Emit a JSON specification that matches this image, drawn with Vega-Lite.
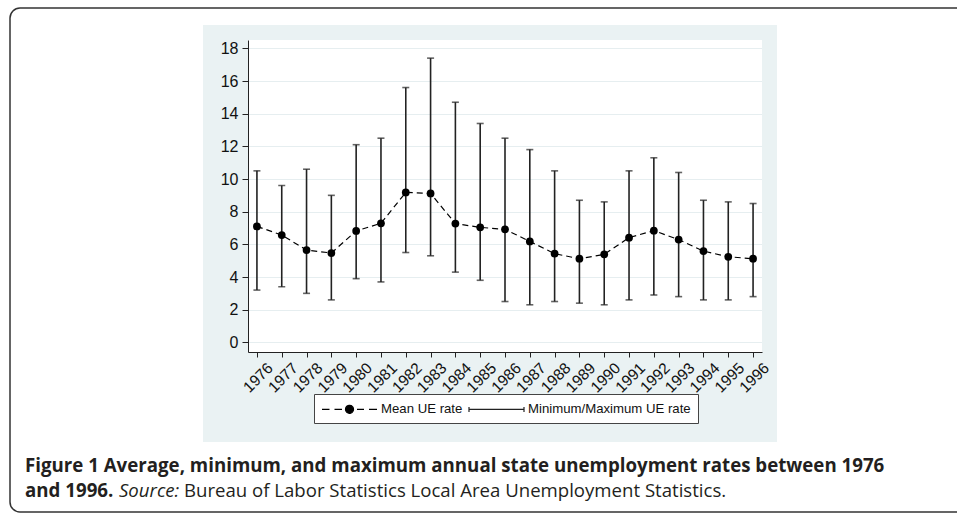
{
  "$schema": "https://vega.github.io/schema/vega-lite/v6.json",
  "autosize": "none",
  "width": 514,
  "height": 312,
  "padding": {"left": 248, "top": 40, "right": 195, "bottom": 162},
  "background": "white",
  "config": {"view": {"stroke": null, "fill": "white"}},
  "title": {
    "text": "Figure 1 Average, minimum, and maximum annual state unemployment rates between 1976",
    "orient": "bottom",
    "anchor": "start",
    "frame": "group",
    "offset": 0,
    "dx": -223,
    "dy": -55.7,
    "font": "Open Sans",
    "fontSize": 18.7,
    "fontWeight": "bold",
    "color": "#231f20"
  },
  "data": {
    "values": [
      {"year": 1976, "mean": 7.10, "min": 3.2, "max": 10.5},
      {"year": 1977, "mean": 6.57, "min": 3.4, "max": 9.6},
      {"year": 1978, "mean": 5.65, "min": 3.0, "max": 10.6},
      {"year": 1979, "mean": 5.47, "min": 2.6, "max": 9.0},
      {"year": 1980, "mean": 6.82, "min": 3.9, "max": 12.1},
      {"year": 1981, "mean": 7.29, "min": 3.7, "max": 12.5},
      {"year": 1982, "mean": 9.18, "min": 5.5, "max": 15.6},
      {"year": 1983, "mean": 9.12, "min": 5.3, "max": 17.4},
      {"year": 1984, "mean": 7.27, "min": 4.3, "max": 14.7},
      {"year": 1985, "mean": 7.04, "min": 3.8, "max": 13.4},
      {"year": 1986, "mean": 6.92, "min": 2.5, "max": 12.5},
      {"year": 1987, "mean": 6.18, "min": 2.3, "max": 11.8},
      {"year": 1988, "mean": 5.43, "min": 2.5, "max": 10.5},
      {"year": 1989, "mean": 5.12, "min": 2.4, "max": 8.7},
      {"year": 1990, "mean": 5.39, "min": 2.3, "max": 8.6},
      {"year": 1991, "mean": 6.41, "min": 2.6, "max": 10.5},
      {"year": 1992, "mean": 6.84, "min": 2.9, "max": 11.3},
      {"year": 1993, "mean": 6.29, "min": 2.8, "max": 10.4},
      {"year": 1994, "mean": 5.59, "min": 2.6, "max": 8.7},
      {"year": 1995, "mean": 5.24, "min": 2.6, "max": 8.6},
      {"year": 1996, "mean": 5.12, "min": 2.8, "max": 8.5}
    ]
  },
  "resolve": {"axis": {"x": "independent", "y": "independent"}},
  "layer": [
    {
      "data": {"values": [{}]},
      "mark": {"type": "rect", "color": "#eaf2f3"},
      "encoding": {
        "x": {"datum": 1973.826, "type": "quantitative", "scale": {"domain": [1975.64, 1996.36], "nice": false, "zero": false}, "axis": null},
        "x2": {"datum": 1975.64},
        "y": {"datum": -6.1, "type": "quantitative", "scale": {"domain": [-0.59, 18.51], "nice": false, "zero": false}, "axis": null},
        "y2": {"datum": 19.428}
      }
    },
    {
      "data": {"values": [{}]},
      "mark": {"type": "rect", "color": "#eaf2f3"},
      "encoding": {
        "x": {"datum": 1996.36, "type": "quantitative", "scale": {"domain": [1975.64, 1996.36], "nice": false, "zero": false}, "axis": null},
        "x2": {"datum": 1996.965},
        "y": {"datum": -6.1, "type": "quantitative", "scale": {"domain": [-0.59, 18.51], "nice": false, "zero": false}, "axis": null},
        "y2": {"datum": 19.428}
      }
    },
    {
      "data": {"values": [{}]},
      "mark": {"type": "rect", "color": "#eaf2f3"},
      "encoding": {
        "x": {"datum": 1973.826, "type": "quantitative", "scale": {"domain": [1975.64, 1996.36], "nice": false, "zero": false}, "axis": null},
        "x2": {"datum": 1996.965},
        "y": {"datum": 18.51, "type": "quantitative", "scale": {"domain": [-0.59, 18.51], "nice": false, "zero": false}, "axis": null},
        "y2": {"datum": 19.428}
      }
    },
    {
      "data": {"values": [{}]},
      "mark": {"type": "rect", "color": "#eaf2f3"},
      "encoding": {
        "x": {"datum": 1973.826, "type": "quantitative", "scale": {"domain": [1975.64, 1996.36], "nice": false, "zero": false}, "axis": null},
        "x2": {"datum": 1996.965},
        "y": {"datum": -6.1, "type": "quantitative", "scale": {"domain": [-0.59, 18.51], "nice": false, "zero": false}, "axis": null},
        "y2": {"datum": -0.59}
      }
    },
    {
      "data": {"values": [{}]},
      "mark": {"type": "rect", "filled": false, "color": "#333333", "strokeWidth": 1.5, "cornerRadius": 10},
      "encoding": {
        "x": {"datum": 1966.046, "type": "quantitative", "scale": {"domain": [1975.64, 1996.36], "nice": false, "zero": false}, "axis": null},
        "x2": {"datum": 2004.946},
        "y": {"datum": -10.386, "type": "quantitative", "scale": {"domain": [-0.59, 18.51], "nice": false, "zero": false}, "axis": null},
        "y2": {"datum": 20.469}
      }
    },
    {
      "data": {"values": [{}]},
      "mark": {"type": "text", "align": "left", "baseline": "alphabetic", "font": "Open Sans", "fontSize": 18.7, "fontWeight": "bold", "color": "#231f20"},
      "encoding": {
        "x": {"datum": 1966.651, "type": "quantitative", "scale": {"domain": [1975.64, 1996.36], "nice": false, "zero": false}, "axis": null},
        "y": {"datum": -9.449, "type": "quantitative", "scale": {"domain": [-0.59, 18.51], "nice": false, "zero": false}, "axis": null},
        "text": {"value": "and 1996."}
      }
    },
    {
      "data": {"values": [{}]},
      "mark": {"type": "text", "align": "left", "baseline": "alphabetic", "font": "Open Sans", "fontSize": 18.6, "fontStyle": "italic", "color": "#231f20"},
      "encoding": {
        "x": {"datum": 1970.44, "type": "quantitative", "scale": {"domain": [1975.64, 1996.36], "nice": false, "zero": false}, "axis": null},
        "y": {"datum": -9.449, "type": "quantitative", "scale": {"domain": [-0.59, 18.51], "nice": false, "zero": false}, "axis": null},
        "text": {"value": "Source:"}
      }
    },
    {
      "data": {"values": [{}]},
      "mark": {"type": "text", "align": "left", "baseline": "alphabetic", "font": "Open Sans", "fontSize": 18.6, "color": "#231f20"},
      "encoding": {
        "x": {"datum": 1973.06, "type": "quantitative", "scale": {"domain": [1975.64, 1996.36], "nice": false, "zero": false}, "axis": null},
        "y": {"datum": -9.449, "type": "quantitative", "scale": {"domain": [-0.59, 18.51], "nice": false, "zero": false}, "axis": null},
        "text": {"value": "Bureau of Labor Statistics Local Area Unemployment Statistics."}
      }
    },
    {
      "mark": {"type": "rule", "strokeWidth": 1.6},
      "encoding": {
        "x": {
          "field": "year", "type": "quantitative",
          "scale": {"domain": [1975.64, 1996.36], "nice": false, "zero": false},
          "axis": {
            "orient": "bottom", "title": null, "zindex": 1, "grid": false,
            "values": [1976, 1977, 1978, 1979, 1980, 1981, 1982, 1983, 1984, 1985, 1986, 1987, 1988, 1989, 1990, 1991, 1992, 1993, 1994, 1995, 1996],
            "format": "d", "labelAngle": -45, "labelAlign": "right", "labelBaseline": "middle",
            "labelOffset": 13, "labelPadding": 8, "tickSize": 5, "tickColor": "#222222", "domainColor": "#222222",
            "labelFont": "Liberation Sans", "labelFontSize": 15.5, "labelColor": "#111111",
            "labelOverlap": false, "labelFlush": false
          }
        },
        "y": {
          "field": "min", "type": "quantitative",
          "scale": {"domain": [-0.59, 18.51], "nice": false, "zero": false},
          "axis": {
            "orient": "left", "title": null, "zindex": 1, "grid": false,
            "values": [0, 2, 4, 6, 8, 10, 12, 14, 16, 18],
            "tickSize": 6, "tickColor": "#222222", "domainColor": "#222222", "labelPadding": 4,
            "labelFont": "Liberation Sans", "labelFontSize": 16, "labelColor": "#111111",
            "labelOverlap": false, "labelFlush": false
          }
        },
        "y2": {"field": "max"},
        "color": {
          "datum": "Minimum/Maximum UE rate", "type": "nominal",
          "scale": {"domain": ["Mean UE rate", "Minimum/Maximum UE rate"], "range": ["#000000", "#222222"]}
        }
      }
    },
    {
      "mark": {"type": "tick", "orient": "horizontal", "size": 7, "thickness": 1.6, "color": "#222222"},
      "encoding": {
        "x": {"field": "year", "type": "quantitative", "scale": {"domain": [1975.64, 1996.36], "nice": false, "zero": false}, "axis": null},
        "y": {"field": "max", "type": "quantitative", "scale": {"domain": [-0.59, 18.51], "nice": false, "zero": false}, "axis": null}
      }
    },
    {
      "mark": {"type": "tick", "orient": "horizontal", "size": 7, "thickness": 1.6, "color": "#222222"},
      "encoding": {
        "x": {"field": "year", "type": "quantitative", "scale": {"domain": [1975.64, 1996.36], "nice": false, "zero": false}, "axis": null},
        "y": {"field": "min", "type": "quantitative", "scale": {"domain": [-0.59, 18.51], "nice": false, "zero": false}, "axis": null}
      }
    },
    {
      "mark": {"type": "line", "strokeDash": [6, 4], "strokeWidth": 1.2},
      "encoding": {
        "x": {"field": "year", "type": "quantitative", "scale": {"domain": [1975.64, 1996.36], "nice": false, "zero": false}, "axis": null},
        "y": {
          "field": "mean", "type": "quantitative",
          "scale": {"domain": [-0.59, 18.51], "nice": false, "zero": false},
          "axis": {
            "orient": "left", "title": null, "zindex": 0, "grid": true,
            "values": [0, 2, 4, 6, 8, 10, 12, 14, 16, 18],
            "gridColor": "#e6eef0", "gridWidth": 1,
            "labels": false, "ticks": false, "domain": false
          }
        },
        "color": {
          "datum": "Mean UE rate", "type": "nominal",
          "legend": {
            "orient": "none", "legendX": 66, "legendY": 354,
            "direction": "horizontal", "title": null,
            "fillColor": "white", "strokeColor": "#444444", "padding": 7,
            "symbolSize": 196, "labelOffset": 44, "columnPadding": 3,
            "labelFont": "Liberation Sans", "labelFontSize": 13.2, "labelColor": "#111111", "labelLimit": 300,
            "encode": {
              "symbols": {
                "update": {
                  "shape": {"signal": "datum.value === 'Mean UE rate' ? 'M-1,0H0.071M0.786,0H1.857M3.5,0A0.571,0.571 0 1,1 2.357,0A0.571,0.571 0 1,1 3.5,0ZM4,0H5M5.714,0H6.857' : 'M-1,-0.357V0.357M-1,0H6.857M6.857,-0.357V0.357'"},
                  "fill": {"value": "#000000"},
                  "stroke": {"value": "#000000"},
                  "strokeWidth": {"value": 1.2},
                  "strokeDash": {"value": [1, 0]},
                  "opacity": {"value": 1}
                }
              }
            }
          }
        }
      }
    },
    {
      "mark": {"type": "point", "filled": true, "size": 60, "color": "#000000", "opacity": 1},
      "encoding": {
        "x": {"field": "year", "type": "quantitative", "scale": {"domain": [1975.64, 1996.36], "nice": false, "zero": false}, "axis": null},
        "y": {"field": "mean", "type": "quantitative", "scale": {"domain": [-0.59, 18.51], "nice": false, "zero": false}, "axis": null}
      }
    }
  ]
}
